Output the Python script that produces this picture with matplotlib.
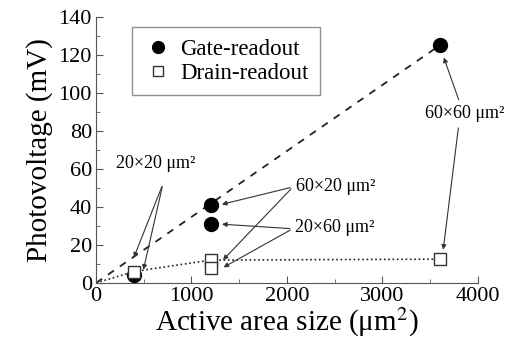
import matplotlib.pyplot as plt
from matplotlib.ticker import MultipleLocator

plt.rcParams['font.family'] = ['Liberation Serif', 'DejaVu Serif']
plt.rcParams['mathtext.fontset'] = 'stix'

# data
gate_x = [400, 1200, 1200, 3600]
gate_y = [4, 41, 31, 125]
drain_x = [400, 1200, 1200, 3600]
drain_y = [6, 12, 8, 12.5]

gate_fit_x = [0, 3600]
gate_fit_y = [0, 125]
drain_fit_x = [0, 400, 1200, 3600]
drain_fit_y = [0, 6, 12, 12.5]

fig = plt.figure(figsize=(5.11, 3.45), dpi=100)
ax = fig.add_axes([0.188, 0.18, 0.747, 0.771])

ax.plot(gate_fit_x, gate_fit_y, color='#222222', lw=1.3, dashes=(4, 4))
ax.plot(drain_fit_x, drain_fit_y, color='#222222', lw=1.2, dashes=(1, 1.6))
ax.plot(gate_x, gate_y, 'o', color='black', ms=10, ls='none', label='Gate-readout', zorder=3)
ax.plot(drain_x, drain_y, 's', mfc='white', mec='#333333', mew=1.0, ms=9, ls='none',
        label='Drain-readout', zorder=3)

ax.set_xlim(0, 4000)
ax.set_ylim(0, 140)
ax.xaxis.set_major_locator(MultipleLocator(1000))
ax.xaxis.set_minor_locator(MultipleLocator(500))
ax.yaxis.set_major_locator(MultipleLocator(20))
ax.yaxis.set_minor_locator(MultipleLocator(10))
ax.tick_params(which='both', direction='in', labelsize=16, color='#555555', pad=3)
ax.tick_params(which='major', length=5)
ax.tick_params(which='minor', length=3)
for s in ['top', 'right']:
    ax.spines[s].set_visible(False)
for s in ['left', 'bottom']:
    ax.spines[s].set_color('#555555')

ax.set_xlabel('Active area size (μm$^2$)', fontsize=21, labelpad=0)
ax.set_ylabel('Photovoltage (mV)', fontsize=21, labelpad=4)

leg = ax.legend(loc='upper left', bbox_to_anchor=(0.065, 1.005), fontsize=16.5,
                handletextpad=0.4, borderpad=0.5, fancybox=False, handlelength=1.2,
                labelspacing=0.15, markerscale=0.85)
leg.get_frame().set_edgecolor('#777777')
leg.get_frame().set_linewidth(1.0)

ap = dict(arrowstyle='-|>', color='#333333', lw=0.8, mutation_scale=7)
fs = 13

ax.text(620, 63, '20×20 μm²', fontsize=fs, ha='center', va='center')
ax.annotate('', xy=(385, 12), xytext=(700, 52), arrowprops=ap)
ax.annotate('', xy=(490, 5.5), xytext=(700, 52), arrowprops=ap)

ax.text(2090, 50.5, '60×20 μm²', fontsize=fs, ha='left', va='center')
ax.annotate('', xy=(1290, 41), xytext=(2063, 50.5), arrowprops=ap)
ax.annotate('', xy=(1310, 11), xytext=(2063, 50.5), arrowprops=ap)

ax.text(2080, 29, '20×60 μm²', fontsize=fs, ha='left', va='center')
ax.annotate('', xy=(1290, 31), xytext=(2060, 28.5), arrowprops=ap)
ax.annotate('', xy=(1310, 7.5), xytext=(2060, 28.5), arrowprops=ap)

ax.text(3864, 89, '60×60 μm²', fontsize=fs, ha='center', va='center')
ax.annotate('', xy=(3634, 120), xytext=(3810, 95), arrowprops=ap)
ax.annotate('', xy=(3634, 16), xytext=(3800, 83), arrowprops=ap)

fig.savefig('out.png', dpi=100)
